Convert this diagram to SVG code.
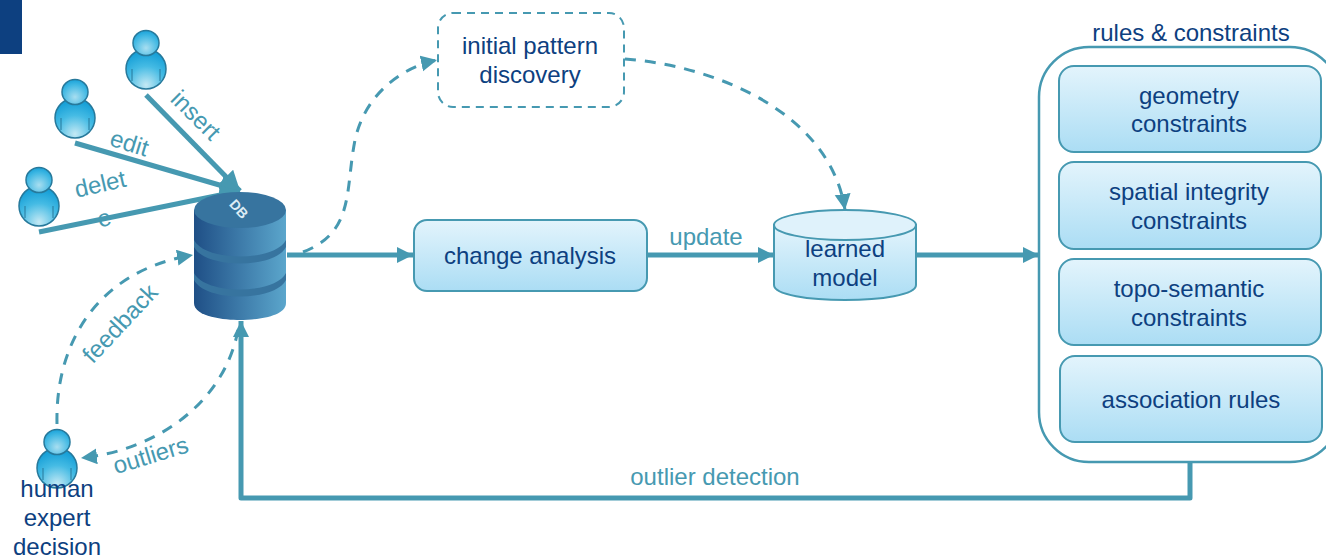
<svg xmlns="http://www.w3.org/2000/svg" width="1326" height="559" viewBox="0 0 1326 559">
<defs>
<linearGradient id="box" x1="0" y1="0" x2="0" y2="1"><stop offset="0" stop-color="#e3f4fc"/><stop offset="1" stop-color="#abddf4"/></linearGradient>
<linearGradient id="db" x1="0" y1="0" x2="1" y2="0"><stop offset="0" stop-color="#1f4f86"/><stop offset="1" stop-color="#5ba6cc"/></linearGradient>
<radialGradient id="person" cx="0.5" cy="0.9" r="0.85"><stop offset="0" stop-color="#c4e9f4"/><stop offset="0.55" stop-color="#45bbe4"/><stop offset="1" stop-color="#129dd6"/></radialGradient>
<radialGradient id="head" cx="0.5" cy="0.7" r="0.7"><stop offset="0" stop-color="#a8def0"/><stop offset="0.7" stop-color="#40b8e3"/><stop offset="1" stop-color="#1aa2d9"/></radialGradient>
<marker id="ah" markerUnits="userSpaceOnUse" markerWidth="18" markerHeight="18" refX="16" refY="8" orient="auto"><path d="M0,0L16,8L0,16Z" fill="#4699b1"/></marker>
<marker id="ahl" markerUnits="userSpaceOnUse" markerWidth="22" markerHeight="22" refX="20" refY="10" orient="auto"><path d="M0,0L20,10L0,20Z" fill="#4699b1"/></marker>
<g id="person-shape">
<ellipse cx="0" cy="26" rx="20" ry="20" fill="url(#person)" stroke="#27799b" stroke-width="1.5"/>
<path d="M-14,26V38M14,26V38" fill="none" stroke="#27799b" stroke-width="1"/>
<ellipse cx="0" cy="0" rx="13" ry="12.5" fill="url(#head)" stroke="#27799b" stroke-width="1.5"/>
</g>
</defs>
<style>
text{font-family:"Liberation Sans",Arial,sans-serif;font-size:24px;text-anchor:middle}
.d{fill:#0d4080}
.t{fill:#4699b1}
.b{fill:url(#box);stroke:#4699b1;stroke-width:2}
.s{fill:none;stroke:#4699b1;stroke-width:5}
.a{fill:none;stroke:#4699b1;stroke-width:3;stroke-dasharray:11 9}
</style>
<rect id="corner" x="0" y="0" width="22" height="54" fill="#0d4080"/>
<g id="connectors">
<path class="s" d="M146,95L240,191" stroke-width="5.5" marker-end="url(#ahl)"/>
<path class="s" d="M75,143L240,191" marker-end="url(#ahl)"/>
<path class="s" d="M39,232L240,191" marker-end="url(#ahl)"/>
<path class="s" d="M287,255H413" marker-end="url(#ah)"/>
<path class="s" d="M646,255H774" marker-end="url(#ah)"/>
<path class="s" d="M916,255H1039" marker-end="url(#ah)"/>
<path class="s" d="M1190,462V498H241V321" stroke-linejoin="round" marker-end="url(#ah)"/>
<path class="a" d="M303,252C355,232 345,190 355,140C365,95 400,68 437,60" marker-end="url(#ah)"/>
<path class="a" d="M625,59C710,65 830,110 845,210" marker-end="url(#ah)"/>
<path class="a" d="M57,424C55,340 100,270 193,255" marker-end="url(#ah)"/>
<path class="a" d="M238,330C225,400 160,450 81,458" marker-end="url(#ah)"/>
</g>
<g id="user-insert"><use href="#person-shape" x="146" y="43"/></g>
<g id="user-edit"><use href="#person-shape" x="75" y="92"/></g>
<g id="user-delete"><use href="#person-shape" x="39" y="180"/></g>
<g id="user-expert"><use href="#person-shape" x="57" y="442"/></g>
<g id="db-node">
<path d="M194,210V303C194,317 225,320 240,320C255,320 286,317 286,303V210Z" fill="url(#db)"/>
<path d="M194,240C205,262 275,262 286,240V247C275,269 205,269 194,247ZM194,273C205,295 275,295 286,273V280C275,302 205,302 194,280Z" fill="#37749f"/>
<ellipse cx="240" cy="210" rx="46" ry="18" fill="#37749f"/>
<text transform="translate(239,209) rotate(48)" x="0" y="5" style="font-size:14px;font-weight:bold;fill:#dcecf5">DB</text>
</g>
<g id="initial-pattern">
<rect x="438" y="13" width="186" height="94" rx="15" fill="#fff" stroke="#4699b1" stroke-width="2" stroke-dasharray="8 6"/>
<text class="d" x="530" y="54">initial pattern</text>
<text class="d" x="530" y="83">discovery</text>
</g>
<g id="change-analysis">
<rect class="b" x="414" y="220" width="233" height="71" rx="13"/>
<text class="d" x="530" y="264">change analysis</text>
</g>
<g id="learned-model">
<path class="b" d="M774,225V285C774,305 916,305 916,285V225Z"/>
<ellipse cx="845" cy="225" rx="71" ry="15" fill="#dff2fb" stroke="#4699b1" stroke-width="2"/>
<text class="d" x="845" y="257">learned</text>
<text class="d" x="845" y="286">model</text>
</g>
<g id="rules-constraints">
<rect x="1039" y="47" width="301" height="415" rx="50" fill="#fff" stroke="#4699b1" stroke-width="2.5"/>
<text class="d" x="1191" y="41">rules &amp; constraints</text>
</g>
<g id="geometry">
<rect class="b" x="1059" y="66" width="262" height="86" rx="15"/>
<text class="d" x="1189" y="104">geometry</text>
<text class="d" x="1189" y="132">constraints</text>
</g>
<g id="spatial">
<rect class="b" x="1059" y="162" width="262" height="87" rx="15"/>
<text class="d" x="1189" y="200">spatial integrity</text>
<text class="d" x="1189" y="229">constraints</text>
</g>
<g id="topo">
<rect class="b" x="1059" y="259" width="262" height="86" rx="15"/>
<text class="d" x="1189" y="297">topo-semantic</text>
<text class="d" x="1189" y="326">constraints</text>
</g>
<g id="association">
<rect class="b" x="1060" y="356" width="262" height="86" rx="15"/>
<text class="d" x="1191" y="408">association rules</text>
</g>
<g id="labels">
<text class="t" transform="translate(190,121) rotate(45)">insert</text>
<text class="t" transform="translate(127,151) rotate(17)">edit</text>
<text class="t" transform="translate(102,192) rotate(-13)">delet</text>
<text class="t" transform="translate(106,226) rotate(-13)">e</text>
<text class="t" transform="translate(126,329) rotate(-47)">feedback</text>
<text class="t" transform="translate(153,463) rotate(-17)">outliers</text>
<text class="t" x="706" y="245">update</text>
<text class="t" x="715" y="485">outlier detection</text>
<text class="d" x="57" y="497">human</text>
<text class="d" x="57" y="526">expert</text>
<text class="d" x="57" y="555">decision</text>
</g>
</svg>
